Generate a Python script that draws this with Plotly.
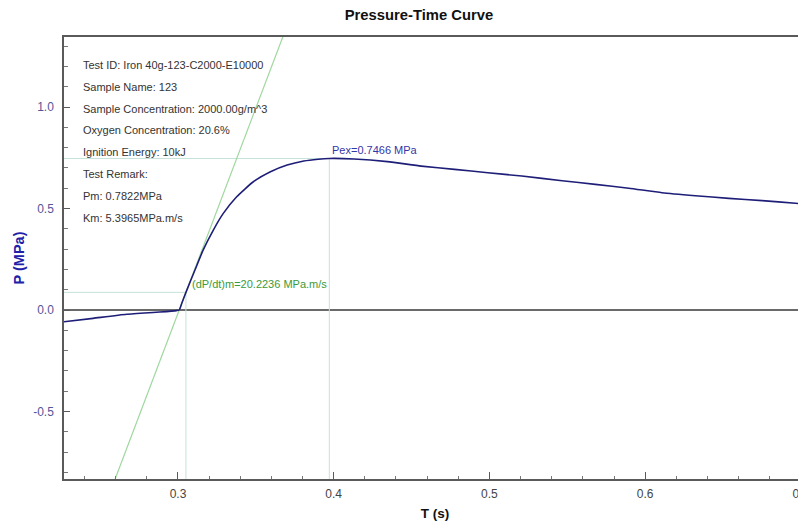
import plotly.graph_objects as go

# ---- data ----
t_s = [0.2268, 0.2455, 0.2670, 0.2883, 0.2990, 0.3008, 0.3025, 0.3051, 0.3109, 0.3162,
       0.3227, 0.3291, 0.3377, 0.3484, 0.3594, 0.3701, 0.3808, 0.3900, 0.3972, 0.4131,
       0.4345, 0.4562, 0.4776, 0.4990, 0.5208, 0.5467, 0.5680, 0.5895, 0.6108, 0.6322,
       0.6537, 0.6751, 0.6965, 0.7033]
p_mpa = [-0.058, -0.041, -0.021, -0.010, -0.003, 0.000, 0.035, 0.087, 0.197, 0.296,
         0.394, 0.476, 0.558, 0.632, 0.681, 0.714, 0.734, 0.743, 0.7466, 0.744,
         0.731, 0.709, 0.693, 0.676, 0.660, 0.637, 0.619, 0.600, 0.578, 0.563,
         0.550, 0.539, 0.526, 0.521]

dpdt_max = 20.2236          # MPa/s
t_tan, p_tan = 0.3051, 0.087  # tangent point
t_pex, p_pex = 0.3972, 0.7466

x_range = [0.2268, 0.7033]
y_range = [-0.8325, 1.345]

x_ticks = [0.3, 0.4, 0.5, 0.6, 0.7]
y_ticks = [-0.5, 0.0, 0.5, 1.0]

info_lines = [
    "Test ID: Iron 40g-123-C2000-E10000",
    "Sample Name: 123",
    "Sample Concentration: 2000.00g/m^3",
    "Oxygen Concentration: 20.6%",
    "Ignition Energy: 10kJ",
    "Test Remark:",
    "Pm: 0.7822MPa",
    "Km: 5.3965MPa.m/s",
]

FONT = "Liberation Sans, Arial, sans-serif"
REF = "#c4e2da"

fig = go.Figure()

# reference lines
fig.add_trace(go.Scatter(x=[x_range[0], t_tan, t_tan], y=[p_tan, p_tan, y_range[0]],
                         mode="lines", line=dict(color=REF, width=1), hoverinfo="skip"))
fig.add_trace(go.Scatter(x=[x_range[0], t_pex, t_pex], y=[p_pex, p_pex, y_range[0]],
                         mode="lines", line=dict(color=REF, width=1), hoverinfo="skip"))

# tangent line (max rate of pressure rise)
tl = [x_range[0], x_range[1]]
pl = [p_tan + dpdt_max * (tx - t_tan) for tx in tl]
fig.add_trace(go.Scatter(x=tl, y=pl, mode="lines",
                         line=dict(color="#9ed89e", width=1.2), hoverinfo="skip"))

# main curve
fig.add_trace(go.Scatter(x=t_s, y=p_mpa, mode="lines",
                         line=dict(color="#1e1e78", width=1.6, shape="spline", smoothing=0.5)))

# info text block
for i, s in enumerate(info_lines):
    fig.add_annotation(x=0.0229, y=0.9367 - i * 0.0493, xref="paper", yref="paper",
                       text=s, showarrow=False, xanchor="left", yanchor="middle",
                       font=dict(family=FONT, size=11, color="#333333"))

fig.add_annotation(x=t_pex, y=p_pex, xref="x", yref="y", text="Pex=0.7466 MPa",
                   showarrow=False, xanchor="left", yanchor="bottom", xshift=1, yshift=0,
                   font=dict(family=FONT, size=11, color="#3535a8"))
fig.add_annotation(x=t_tan, y=p_tan, xref="x", yref="y", text="(dP/dt)m=20.2236 MPa.m/s",
                   showarrow=False, xanchor="left", yanchor="middle", xshift=4, yshift=8,
                   font=dict(family=FONT, size=11, color="#3b9a3b"))

# page body has an 8px margin: figure sized so the plot area spans x 64..806, y 37..479
fig.update_layout(
    width=798, height=513,
    margin=dict(l=56, r=0, t=29, b=42, autoexpand=False),
    paper_bgcolor="white", plot_bgcolor="white",
    showlegend=False,
    title=dict(text="<b>Pressure-Time Curve</b>", x=0.515, xanchor="center",
               y=1 - 7 / 513, yanchor="middle",
               font=dict(family=FONT, size=14.8, color="#111111")),
    font=dict(family=FONT),
)
fig.update_xaxes(
    range=x_range, tickvals=x_ticks, ticktext=[f"{v:.1f}" for v in x_ticks],
    automargin=False, ticklabeloverflow="allow",
    showgrid=False, zeroline=False,
    showline=True, linecolor="#5a5a5a", linewidth=1.5, mirror=True,
    ticks="inside", ticklen=7, tickcolor="#5a5a5a", tickwidth=1,
    minor=dict(dtick=0.02, tick0=0.3, ticks="inside", ticklen=3, tickcolor="#777777"),
    tickfont=dict(family=FONT, size=12, color="#444444"),
    ticklabelstandoff=3,
    title=dict(text="<b>T (s)</b>", font=dict(family=FONT, size=13.5, color="#111111"),
               standoff=11),
)
fig.update_yaxes(
    range=y_range, tickvals=y_ticks, ticktext=[f"{v:.1f}" for v in y_ticks],
    automargin=False,
    showgrid=False, zeroline=True, zerolinecolor="#6a6a6a", zerolinewidth=1.5,
    showline=True, linecolor="#5a5a5a", linewidth=1.5,
    ticks="inside", ticklen=6, tickcolor="#5a5a5a", tickwidth=1,
    minor=dict(dtick=0.1, tick0=0, ticks="inside", ticklen=4, tickcolor="#777777"),
    tickfont=dict(family=FONT, size=12, color="#55559a"),
    ticklabelstandoff=6,
    title=dict(text="<b>P (MPa)</b>", font=dict(family=FONT, size=14.5, color="#2020a8"),
               standoff=5),
)

fig.write_html("out.html")
